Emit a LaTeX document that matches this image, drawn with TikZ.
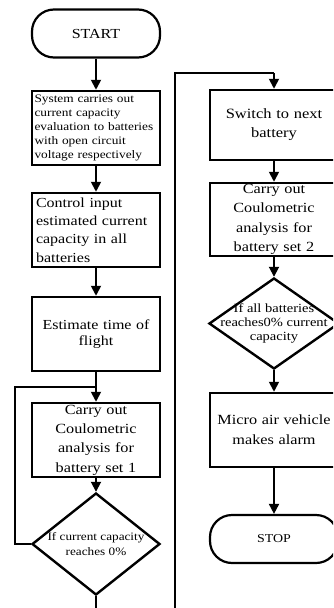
\documentclass[tikz,border=0pt]{standalone}
\usepackage{fontspec}
\setmainfont{Liberation Serif}[FakeStretch=1.16]
\usepackage{tikz}
\usetikzlibrary{arrows.meta,shapes}
\tikzstyle{term}=[draw,rectangle,rounded corners=22pt,line width=2.2pt,minimum width=128pt,minimum height=48pt,inner sep=0pt]
\tikzstyle{proc}=[draw,rectangle,line width=2.5pt,minimum width=128pt,minimum height=74pt,inner xsep=4pt,inner ysep=0pt,text width=120pt,align=center]
\tikzstyle{dec}=[draw,diamond,line width=2.4pt,inner sep=0pt]
\tikzstyle{flow}=[-{Triangle[width=10pt,length=10pt]},line width=1.8pt]
\tikzstyle{back}=[line width=1.2pt]

\begin{document}
\begin{tikzpicture}[x=1pt,y=-1pt]
        \useasboundingbox (0,0) rectangle (333,608);
        \clip (0,0) rectangle (333,608);
        % left column
        \node at ( 96, 33.5) [term,font=\fontsize{13.8}{15}\selectfont] (start) {START};
        \node at ( 96,128) [proc,align=left,inner xsep=2.5pt,text width=123pt,font=\fontsize{11.5}{14.2}\selectfont] (eval) {\hyphenpenalty=10000\relax System carries out\\current capacity\\evaluation to batteries\\with open circuit\\voltage respectively};
        \node at ( 96,230) [proc,align=left,font=\fontsize{13.8}{18.3}\selectfont] (input) {Control input\\estimated current\\capacity in all\\batteries};
        \node at ( 96,334) [proc,font=\fontsize{13.8}{16.7}\selectfont] (time) {Estimate time of\\flight};
        \node at ( 96,440) [proc,font=\fontsize{14}{19.3}\selectfont] (set1) {Carry out\\Coulometric\\analysis for\\battery set 1};
        \node at ( 96,544) [dec,minimum width=128pt,minimum height=102pt] (zero) {};
        \node at (zero) [font=\fontsize{11.4}{15}\selectfont,align=center] (zerotxt) {If current capacity\\reaches 0\%};
        % right column
        \node at (274,125) [proc,minimum height=70pt,font=\fontsize{14.2}{19}\selectfont] (switch) {Switch to next\\battery};
        \node at (274,219.5) [proc,minimum height=73pt,font=\fontsize{14}{19.3}\selectfont] (set2) {Carry out\\Coulometric\\analysis for\\battery set 2};
        \node at (274,323.5) [dec,minimum width=130pt,minimum height=91pt] (all) {};
        \node at (all) [font=\fontsize{12.5}{14}\selectfont,align=center] (alltxt) {If all batteries\\reaches0\% current\\capacity};
        \node at (274,430) [proc,font=\fontsize{14}{20}\selectfont] (alarm) {Micro air vehicle\\makes alarm};
        \node at (274,539) [term,font=\fontsize{12}{14}\selectfont] (stop) {STOP};
        % connectors
        \draw [flow] (start) -- (eval);
        \draw [flow] (eval) -- (input);
        \draw [flow] (input) -- (time);
        \draw [flow] (time) -- (set1);
        \draw [flow] (set1) -- (zero);
        \coordinate (l1) at (15,544);
        \coordinate (l2) at (15,387);
        \coordinate (j1) at (96,387);
        \draw [back] (zero.west) -- (l1) -- (l2) -- (j1);
        \coordinate (b1) at (96,625);
        \coordinate (b2) at (175,625);
        \coordinate (t1) at (175,73);
        \coordinate (t2) at (274,73);
        \draw [line width=1.8pt] (zero.south) -- (b1);
        \draw [back] (b1) -- (b2) -- (t1) -- (t2);
        \draw [flow] (t2) -- (switch);
        \draw [flow] (switch) -- (set2);
        \draw [flow] (set2) -- (all);
        \draw [flow] (all) -- (alarm);
        \draw [flow] (alarm) -- (stop);
\end{tikzpicture}
\end{document}
